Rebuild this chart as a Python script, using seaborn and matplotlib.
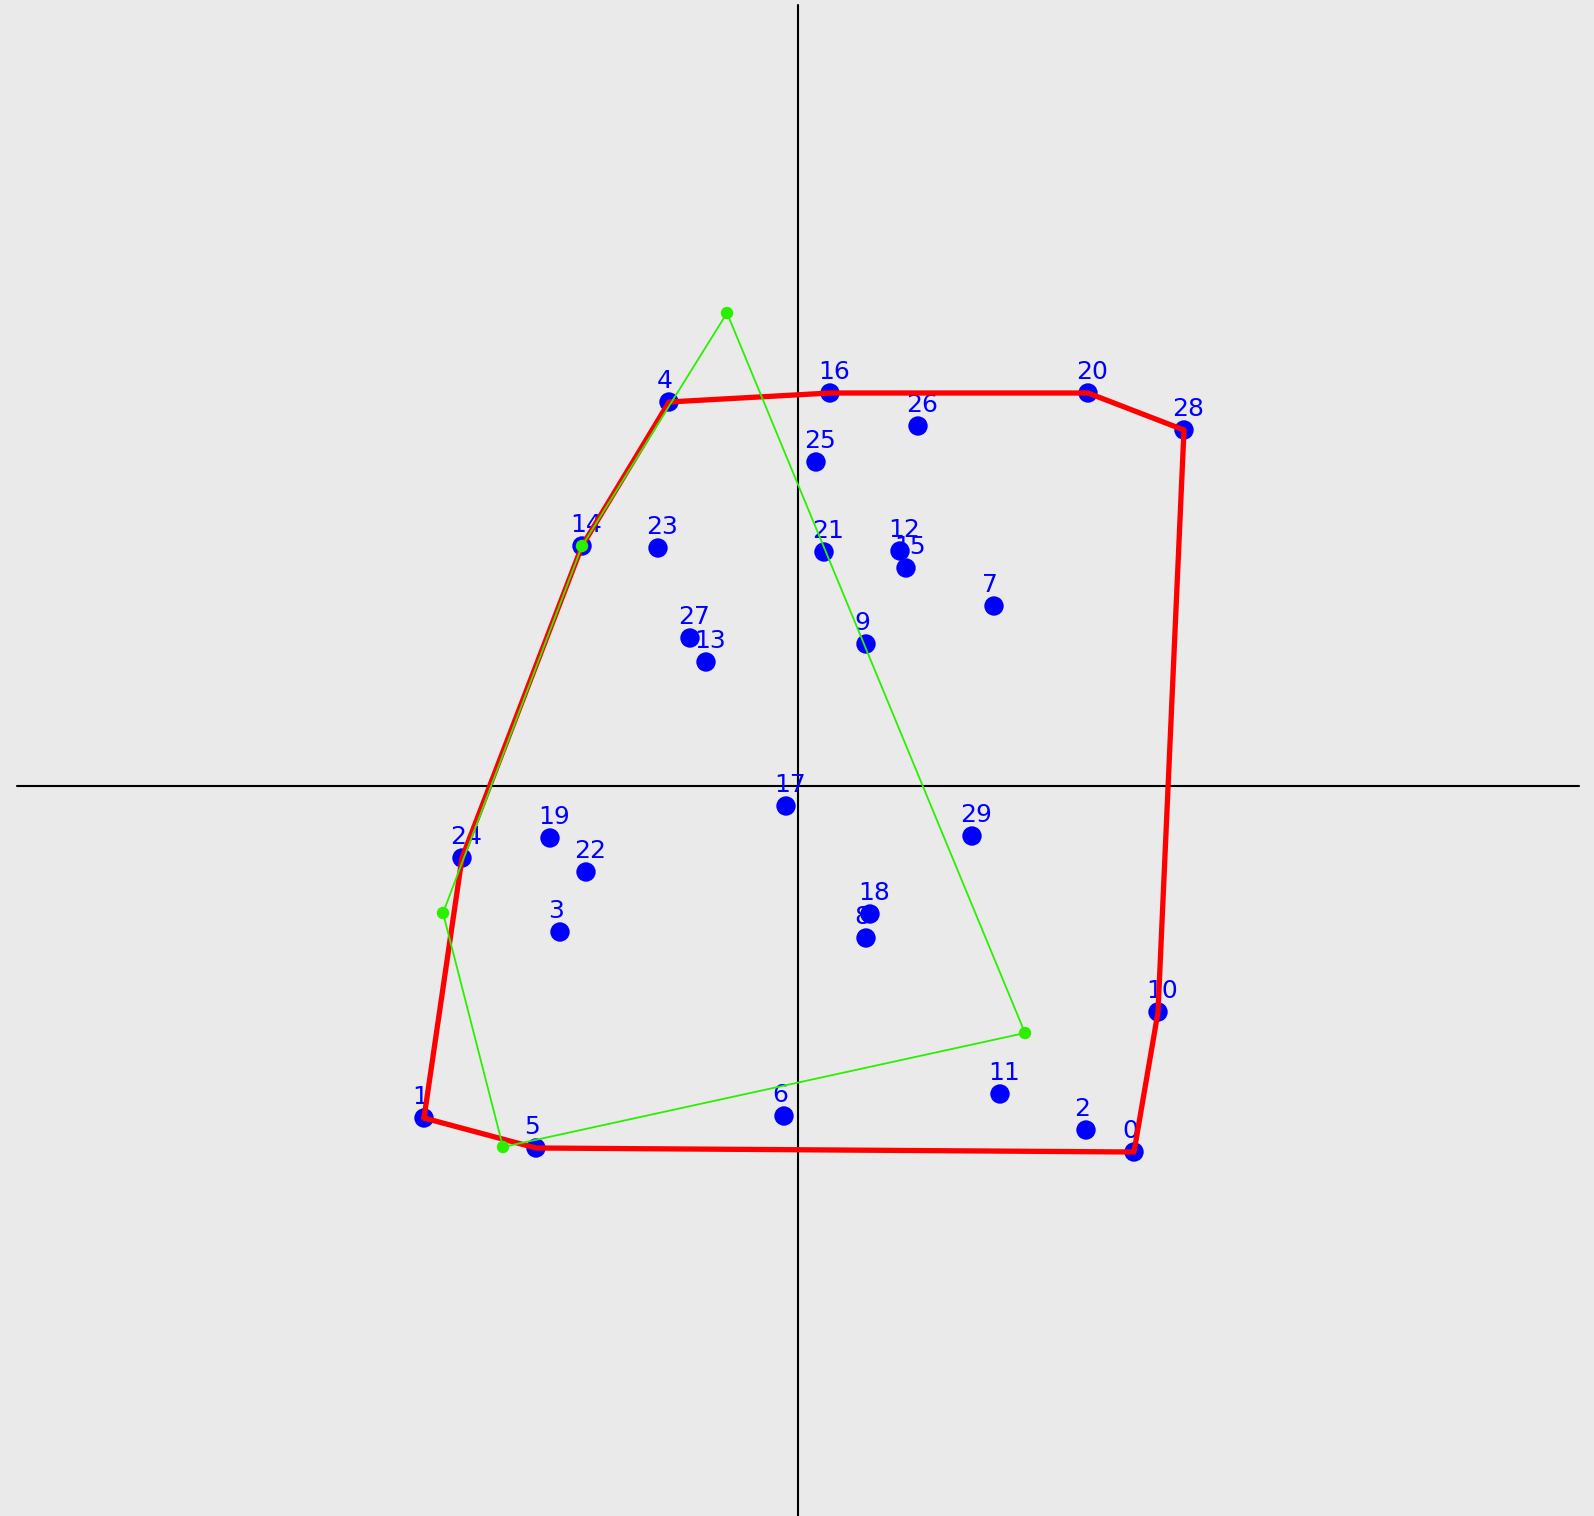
import numpy as np
import pandas as pd
import matplotlib
matplotlib.use("Agg")
import matplotlib.pyplot as plt
import seaborn as sns

# point coordinates (origin at the axis cross, y up)
pt_id = list(range(30))
pt_x = [336, -374, 288, -238, -129, -262, -14, 196, 68, 68,
        360, 202, 102, -92, -216, 108, 32, -12, 72, -248,
        290, 26, -212, -140, -336, 18, 120, -108, 386, 174]
pt_y = [-366, -332, -344, -146, 384, -362, -330, 180, -152, 142,
        -226, -308, 235, 124, 240, 218, 393, -20, -128, -52,
        393, 234, -86, 238, -72, 324, 360, 148, 356, -50]

# convex hull (red), in drawing order
hull_idx = [1, 5, 0, 10, 28, 20, 16, 4, 14, 24]

# second polygon (green)
green_x = [-71, -216, -355, -295, 227]
green_y = [473, 240, -127, -361, -247]

AXIS_LEN = 781

sns.set_style("white")
fig = plt.figure(figsize=(15.94, 15.16), dpi=100)
fig.patch.set_facecolor("#eaeaea")
ax = fig.add_axes([0, 0, 1, 1])
ax.set_facecolor("#eaeaea")
ax.set_xlim(-798, 796)
ax.set_ylim(-730, 786)
ax.set_axis_off()

# axis cross
ax.plot([-AXIS_LEN, AXIS_LEN], [0, 0], color="black", lw=1.5, zorder=1)
ax.plot([0, 0], [-AXIS_LEN, AXIS_LEN], color="black", lw=1.5, zorder=1)

pts = pd.DataFrame({"id": pt_id, "x": pt_x, "y": pt_y})
sns.scatterplot(data=pts, x="x", y="y", color="#0000ff", s=195,
                edgecolor="none", ax=ax, zorder=2, legend=False)
for i, x, y in zip(pt_id, pt_x, pt_y):
    ax.text(x - 12, y + 14, str(i), color="#0000ff", fontsize=18,
            ha="left", va="baseline", zorder=3)

# red hull
hx = [pt_x[i] for i in hull_idx] + [pt_x[hull_idx[0]]]
hy = [pt_y[i] for i in hull_idx] + [pt_y[hull_idx[0]]]
hull = pd.DataFrame({"x": hx, "y": hy})
sns.lineplot(data=hull, x="x", y="y", sort=False, estimator=None,
             color="#ff0000", lw=3.8, ax=ax, zorder=4)

# green polygon
gx = green_x + [green_x[0]]
gy = green_y + [green_y[0]]
green = pd.DataFrame({"x": gx, "y": gy})
sns.lineplot(data=green, x="x", y="y", sort=False, estimator=None,
             color="#2af000", lw=1.3, ax=ax, zorder=5)
sns.scatterplot(x=green_x, y=green_y, color="#2af000", s=80,
                edgecolor="none", ax=ax, zorder=6, legend=False)

ax.set_xlabel("")
ax.set_ylabel("")
fig.savefig("out.png", dpi=100, facecolor=fig.get_facecolor())
